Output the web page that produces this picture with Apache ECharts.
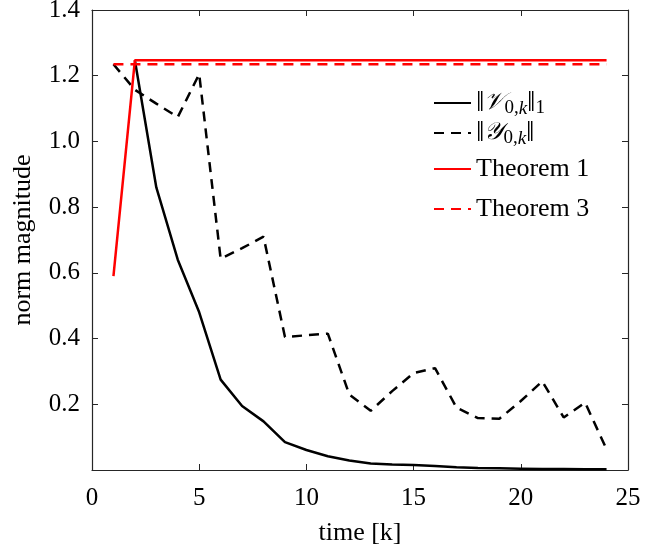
<!DOCTYPE html>
<html>
<head>
<meta charset="utf-8">
<script src="https://cdn.jsdelivr.net/npm/echarts@6/dist/echarts.min.js"></script>
<style>html,body{margin:0;padding:0;background:#fff}#c{width:652px;height:546px}</style>
</head>
<body>
<div id="c"></div>
<script>
// ---- data ----
var xTicks = [0, 5, 10, 15, 20, 25];
var yTicks = [0.2, 0.4, 0.6, 0.8, 1.0, 1.2, 1.4];
var kV = [2, 3, 4, 5, 6, 7, 8, 9, 10, 11, 12, 13, 14, 15, 16, 17, 18, 19, 20, 21, 22, 23, 24];
var normV = [1.247, 0.86, 0.64, 0.48, 0.275, 0.195, 0.148, 0.085, 0.061, 0.042, 0.029, 0.020, 0.017, 0.015, 0.012, 0.008, 0.006, 0.005, 0.004, 0.003, 0.003, 0.002, 0.002];
var kY = [1, 2, 3, 4, 5, 6, 7, 8, 9, 10, 11, 12, 13, 14, 15, 16, 17, 18, 19, 20, 21, 22, 23, 24];
var normY = [1.235, 1.157, 1.115, 1.074, 1.205, 0.643, 0.675, 0.71, 0.405, 0.41, 0.415, 0.23, 0.18, 0.24, 0.295, 0.31, 0.19, 0.158, 0.156, 0.21, 0.27, 0.16, 0.205, 0.063];
var kT1 = [1, 2, 24];
var thm1 = [0.59, 1.247, 1.247];
var kT3 = [1, 24];
var thm3 = [1.235, 1.235];
var names = ['V', 'Y', 'Theorem 1', 'Theorem 3'];

function pairs(xs, ys) { return xs.map(function (x, i) { return [x, ys[i]]; }); }

var serif = 'Liberation Serif, Times New Roman, serif';
var axisColor = '#262626';

var chart = echarts.init(document.getElementById('c'));

function legendAt(name, top) {
  return {
    data: [name], left: 428, top: top, orient: 'vertical',
    itemWidth: 37, itemHeight: 14, itemGap: 0,
    selectedMode: false,
    itemStyle: { opacity: 0, borderWidth: 0 },
    textStyle: {
      fontFamily: serif, fontSize: 26, color: '#000', padding: [0, 0, 0, 0],
      rich: {
        n: { fontFamily: serif, fontSize: 30, lineHeight: 30, color: '#000' },
        m: { fontFamily: 'DejaVu Serif, serif', fontSize: 24, lineHeight: 30, fontStyle: 'italic', color: '#000' },
        s: { fontFamily: serif, fontSize: 19, lineHeight: 19, verticalAlign: 'bottom', color: '#000' },
        k: { fontFamily: serif, fontSize: 19, lineHeight: 19, verticalAlign: 'bottom', fontStyle: 'italic', color: '#000' }
      }
    },
    formatter: function (n) {
      if (n === 'V') return '{n|\u2016}{m|\uD835\uDCB1}{s|0,}{k|k}{n|\u2016}{s|1}';
      if (n === 'Y') return '{n|\u2016}{m|\uD835\uDCB4}{s|0,}{k|k}{n|\u2016}';
      return n;
    }
  };
}

var option = {
  animation: false,
  backgroundColor: '#fff',
  grid: { left: 92, right: 24, top: 10, bottom: 76, outerBoundsMode: 'none', containLabel: false },
  legend: [legendAt('V', 83), legendAt('Y', 113), legendAt('Theorem 1', 151), legendAt('Theorem 3', 191)],
  xAxis: [{
    type: 'value', min: 0, max: 25, interval: 5,
    name: 'time [k]', nameLocation: 'middle', nameGap: 50,
    nameTextStyle: { fontFamily: serif, fontSize: 26, color: '#000' },
    axisLine: { show: true, onZero: false, lineStyle: { color: axisColor, width: 1.2 } },
    axisTick: { show: true, inside: true, length: 6, lineStyle: { color: axisColor } },
    axisLabel: { fontFamily: serif, fontSize: 25, color: '#000', margin: 16,
      formatter: function (v) { return xTicks.indexOf(v) >= 0 ? String(v) : ''; } },
    splitLine: { show: false }
  }, {
    type: 'value', min: 0, max: 25, interval: 5, position: 'top',
    axisLine: { show: true, onZero: false, lineStyle: { color: axisColor, width: 1.2 } },
    axisTick: { show: true, inside: true, length: 6, lineStyle: { color: axisColor } },
    axisLabel: { show: false }, splitLine: { show: false }
  }],
  yAxis: [{
    type: 'value', min: 0, max: 1.4, interval: 0.2,
    name: 'norm magnitude', nameLocation: 'middle', nameGap: 56, nameRotate: 90,
    nameTextStyle: { fontFamily: serif, fontSize: 26, color: '#000' },
    axisLine: { show: true, onZero: false, lineStyle: { color: axisColor, width: 1.2 } },
    axisTick: { show: true, inside: true, length: 6, lineStyle: { color: axisColor } },
    axisLabel: { fontFamily: serif, fontSize: 25, color: '#000', margin: 12,
      formatter: function (v) {
        for (var i = 0; i < yTicks.length; i++) if (Math.abs(yTicks[i] - v) < 1e-6) return yTicks[i].toFixed(1);
        return '';
      } },
    splitLine: { show: false }
  }, {
    type: 'value', min: 0, max: 1.4, interval: 0.2, position: 'right',
    axisLine: { show: true, onZero: false, lineStyle: { color: axisColor, width: 1.2 } },
    axisTick: { show: true, inside: true, length: 6, lineStyle: { color: axisColor } },
    axisLabel: { show: false }, splitLine: { show: false }
  }],
  series: [
    { name: names[0], type: 'line', data: pairs(kV, normV), symbol: 'none',
      lineStyle: { color: '#000', width: 2.5, type: 'solid' }, itemStyle: { color: '#000' } },
    { name: names[1], type: 'line', data: pairs(kY, normY), symbol: 'none',
      lineStyle: { color: '#000', width: 2.5, type: [10, 7] }, itemStyle: { color: '#000' } },
    { name: names[2], type: 'line', data: pairs(kT1, thm1), symbol: 'none',
      lineStyle: { color: '#ff0000', width: 2.5, type: 'solid' }, itemStyle: { color: '#ff0000' } },
    { name: names[3], type: 'line', data: pairs(kT3, thm3), symbol: 'none',
      lineStyle: { color: '#ff0000', width: 2.5, type: [10, 7] }, itemStyle: { color: '#ff0000' } }
  ]
};
chart.setOption(option);
</script>
</body>
</html>
